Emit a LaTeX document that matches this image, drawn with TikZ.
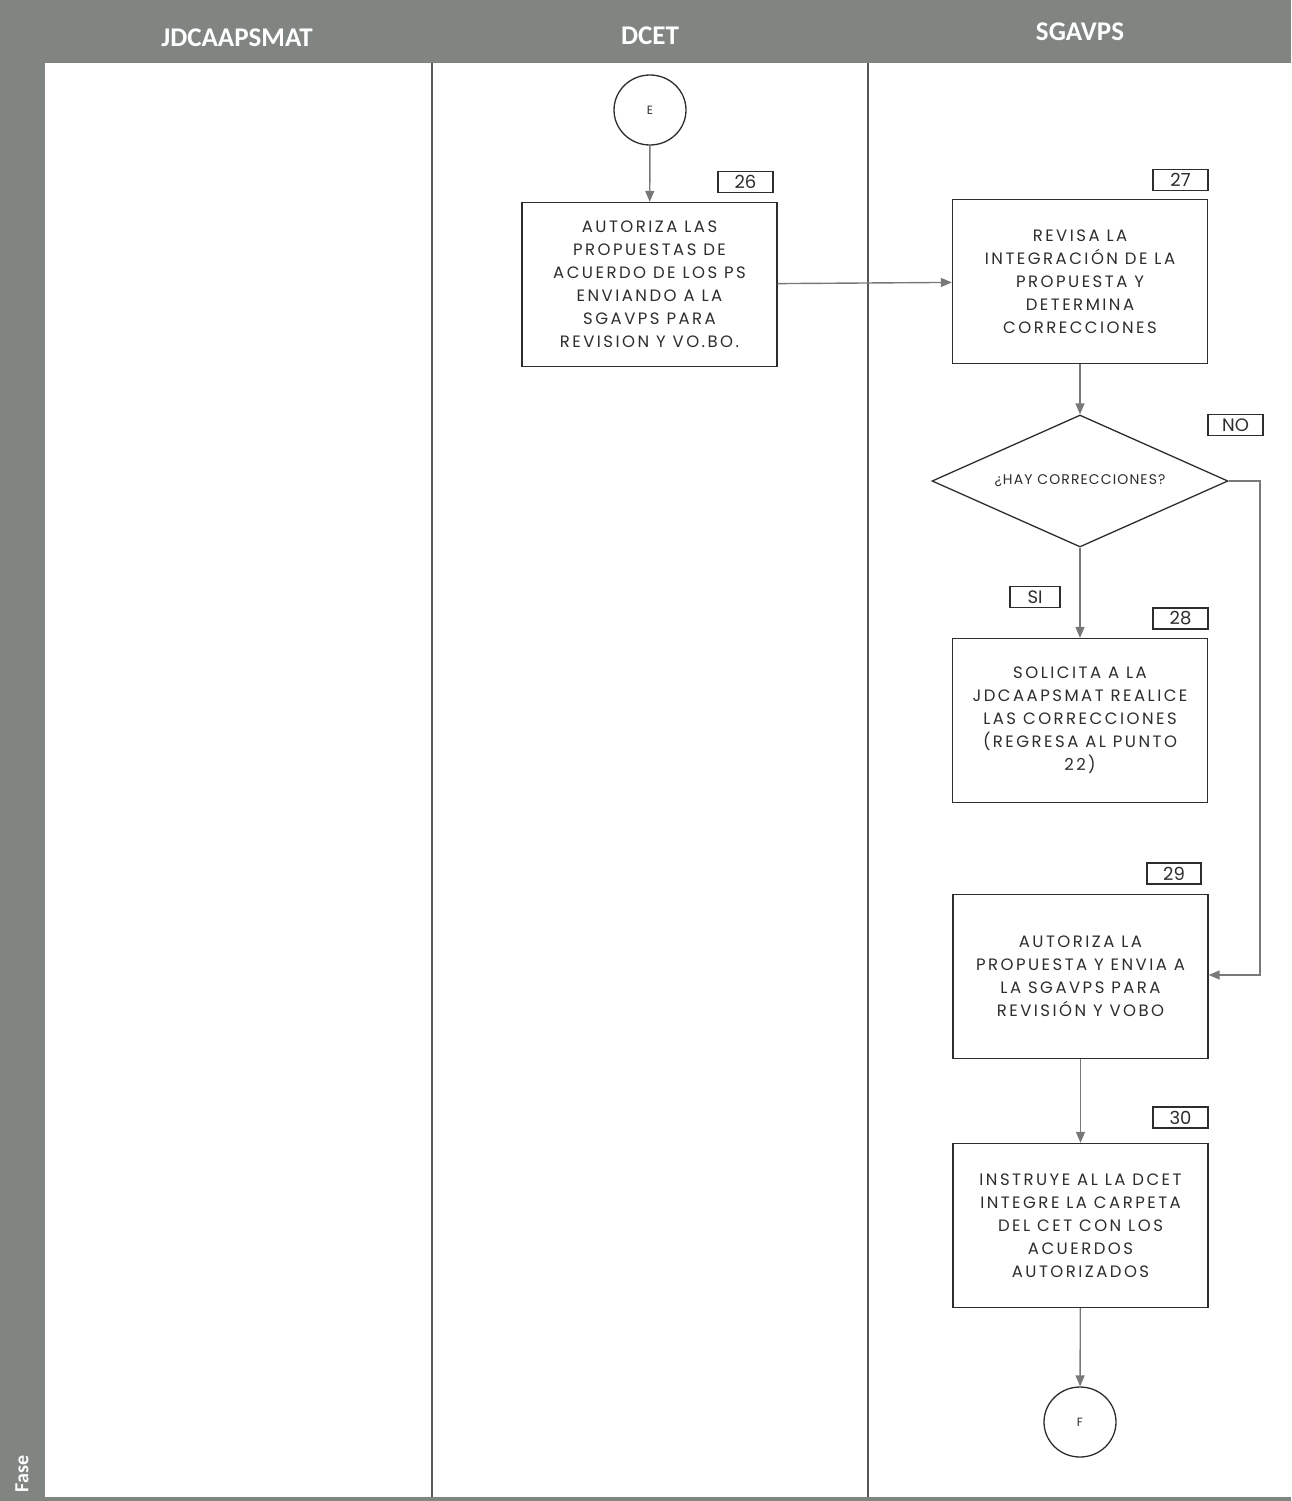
\documentclass[tikz,border=0pt]{standalone}
\usepackage{fontspec}
\setmainfont{Poppins}[LetterSpace=15]
\newfontfamily\hdrfont{Carlito}
\usetikzlibrary{shapes.geometric,arrows.meta}
\definecolor{hdr}{RGB}{128,133,129}
\definecolor{conn}{RGB}{120,120,120}
\definecolor{ink}{RGB}{45,45,45}
\begin{document}
\begin{tikzpicture}[x=1pt,y=-1pt,
  procbox/.style={draw=ink,line width=1.3pt,fill=white,minimum width=255pt,minimum height=164pt,inner sep=0pt,align=center,text=ink,font=\fontsize{16.5}{23}\selectfont},
  numbox/.style={draw=ink,line width=1.1pt,minimum width=55pt,minimum height=21pt,inner sep=0pt,text=ink,font=\fontsize{18}{18}\selectfont\addfontfeatures{LetterSpace=0}},
  conncircle/.style={draw=ink,line width=1.3pt,ellipse,minimum width=72pt,minimum height=70pt,inner sep=0pt,text=ink,font=\fontsize{12}{12}\selectfont},
  decision/.style={draw=ink,line width=1.3pt,diamond,aspect=2.24,minimum width=296pt,minimum height=132pt,inner sep=0pt,text=ink,font=\fontsize{14}{14}\selectfont\addfontfeatures{LetterSpace=8}},
  flow/.style={draw=conn,line width=1.4pt,-{Triangle[length=11pt,width=9pt]}},
  lanehdr/.style={text=white,font=\hdrfont\bfseries\fontsize{27}{27}\selectfont},
  lanesep/.style={draw=ink!80,line width=1.5pt}
]
\useasboundingbox (0,0) rectangle (1291,1501);
\fill[hdr] (0,0) rectangle (1291,1501);
\fill[white] (45,63) rectangle (1291,1497);
\draw[hdr,line width=0.8pt] (45,1497) -- (1291,1497);
% lane headers
\node[lanehdr] (h1) at (237,38) {JDCAAPSMAT};
\node[lanehdr] (h2) at (650,36) {DCET};
\node[lanehdr] (h3) at (1080,32) {SGAVPS};
\node[text=white,font=\hdrfont\bfseries\fontsize{20}{20}\selectfont,rotate=90] (fase) at (22,1474) {Fase};
% lane separators
\draw[lanesep] (432,63) -- (432,1497);
\draw[lanesep] (868,63) -- (868,1497);
% nodes
\node[conncircle] (E) at (650,110) {E};
\node[procbox] (b26) at (649.5,284.5) {AUTORIZA LAS\\PROPUESTAS DE\\ACUERDO DE LOS PS\\ENVIANDO A LA\\SGAVPS PARA\\REVISION Y VO.BO.};
\node[numbox] (n26) at (745.5,182) {26};
\node[procbox] (b27) at (1080,281.5) {REVISA LA\\INTEGRACIÓN DE LA\\PROPUESTA Y\\DETERMINA\\CORRECCIONES};
\node[numbox] (n27) at (1180.5,180) {27};
\node[decision] (d) at (1080,481) {¿HAY CORRECCIONES?};
\node[numbox] (no) at (1235.5,425) {NO};
\node[numbox,minimum width=50pt] (si) at (1035,597) {SI};
\node[procbox] (b28) at (1080,720.5) {SOLICITA A LA\\JDCAAPSMAT REALICE\\LAS CORRECCIONES\\(REGRESA AL PUNTO\\22)};
\node[numbox] (n28) at (1180.5,618.5) {28};
\node[numbox,minimum width=54pt] (n29) at (1174,873.5) {29};
\node[procbox] (b29) at (1080.5,976.5) {AUTORIZA LA\\PROPUESTA Y ENVIA A\\LA SGAVPS PARA\\REVISIÓN Y VOBO};
\node[numbox] (n30) at (1180.5,1117.5) {30};
\node[procbox] (b30) at (1080.5,1225.5) {INSTRUYE AL LA DCET\\INTEGRE LA CARPETA\\DEL CET CON LOS\\ACUERDOS\\AUTORIZADOS};
\node[conncircle] (F) at (1080,1422) {F};
% connectors
\draw[flow] (E) -- (b26);
\draw[flow] (b26) -- (b27);
\draw[flow] (b27) -- (d);
\draw[flow] (d) -- (b28);
\coordinate (r1) at (1260,481);
\coordinate (r2) at (1260,975);
\draw[flow] (d.east) -- (r1) -- (r2) -- (b29.east |- r2);
\draw[flow] (b29) -- (b30);
\draw[flow] (b30) -- (F);
\end{tikzpicture}
\end{document}
